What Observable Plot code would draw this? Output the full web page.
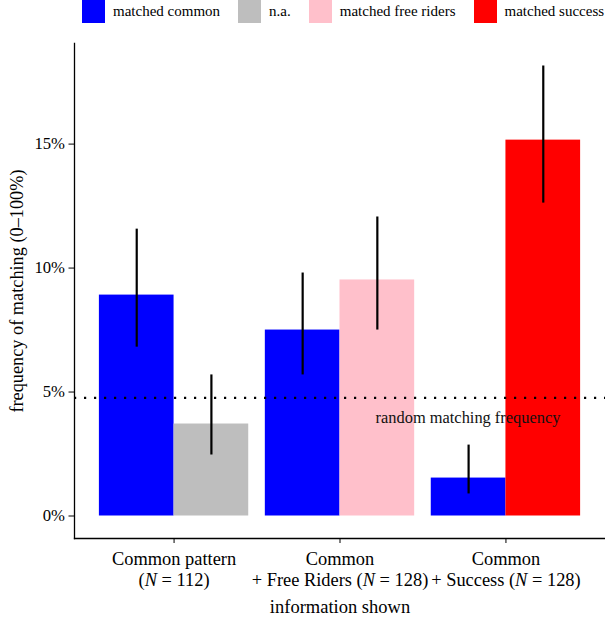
<!DOCTYPE html>
<html>
<head>
<meta charset="utf-8">
<script src="https://cdn.jsdelivr.net/npm/d3@7"></script>
<script src="https://cdn.jsdelivr.net/npm/@observablehq/plot@0.6"></script>
<style>
  body { margin: 0; background: #fff; font-family: "Liberation Serif", "Times New Roman", serif; }
  #legend { height: 30px; display: flex; align-items: flex-start; padding-left: 82px; font-size: 15px; color: #000; white-space: nowrap; }
  .item { display: flex; align-items: center; margin-right: 18px; height: 23px; flex-shrink: 0; }
  .key { width: 23px; height: 23px; margin-right: 8px; flex-shrink: 0; }
  svg { display: block; }
</style>
</head>
<body>
<div id="legend"></div>
<div id="chart"></div>
<script>
// ---- data ----
const groupLabels = [
  "Common pattern\n(N = 112)",
  "Common\n+ Free Riders (N = 128)",
  "Common\n+ Success (N = 128)"
];
const seriesNames = ["matched common", "n.a.", "matched free riders", "matched success"];
const seriesColors = ["#0000ff", "#bebebe", "#ffc0cb", "#ff0000"];
const barGroup = [0, 0, 1, 1, 2, 2];
const barSeries = ["matched common", "n.a.", "matched common", "matched free riders", "matched common", "matched success"];
const barValue = [8.91, 3.71, 7.50, 9.52, 1.53, 15.16];
const barLow   = [6.81, 2.46, 5.69, 7.50, 0.89, 12.62];
const barHigh  = [11.57, 5.69, 9.80, 12.06, 2.86, 18.15];
const randomFrequency = 100 / 21;
const yTicks = [0, 5, 10, 15];
const yTitle = "frequency of matching (0–100%)";
const xTitle = "information shown";
const annotation = "random matching frequency";

// ---- legend ----
const legend = document.getElementById("legend");
seriesNames.forEach((name, i) => {
  const item = document.createElement("div");
  item.className = "item";
  const key = document.createElement("div");
  key.className = "key";
  key.style.background = seriesColors[i];
  const label = document.createElement("span");
  label.textContent = name;
  item.append(key, label);
  legend.append(item);
});

// ---- chart ----
const half = 0.45; // dodge width of each bar in group units
const bars = barValue.map((v, i) => ({
  group: barGroup[i] + 1,
  slot: barSeries[i] === "matched common" ? 0 : 1,
  series: barSeries[i],
  value: v,
  low: barLow[i],
  high: barHigh[i]
}));
const yMax = d3.max(barHigh);

const chart = Plot.plot({
  width: 605,
  height: 588,
  marginLeft: 74,
  marginRight: 0,
  marginTop: 13,
  marginBottom: 80,
  style: { fontFamily: "Liberation Serif, Times New Roman, serif", fontSize: "17px", color: "#000", background: "#fff" },
  x: { type: "linear", domain: [0.4, 3.6] },
  y: { domain: [-0.05 * yMax, 1.05 * yMax] },
  color: { domain: seriesNames, range: seriesColors },
  marks: [
    Plot.rectY(bars, {
      x1: d => d.group - half + d.slot * half,
      x2: d => d.group + d.slot * half,
      y: "value",
      fill: "series"
    }),
    Plot.ruleY([randomFrequency], { stroke: "#000", strokeWidth: 2.2, strokeDasharray: "2.2,7.8" }),
    Plot.ruleX(bars, {
      x: d => d.group + (d.slot - 0.5) * half,
      y1: "low",
      y2: "high",
      stroke: "#000",
      strokeWidth: 2.2
    }),
    Plot.text([annotation], {
      text: d => d,
      y: () => randomFrequency,
      frameAnchor: "right",
      dx: -137.5,
      dy: 20,
      textAnchor: "middle",
      fontSize: 16.4,
      fill: "#111"
    }),
    Plot.frame({ anchor: "left", stroke: "#000", strokeWidth: 1.3 }),
    Plot.frame({ anchor: "bottom", stroke: "#000", strokeWidth: 1.3 }),
    Plot.axisY({ ticks: yTicks, tickFormat: d => d + "%", tickSize: 5.5, tickPadding: 4, fontSize: 16.7, label: null, stroke: "#000" }),
    Plot.axisX({ ticks: [1, 2, 3], tickFormat: d => groupLabels[d - 1], tickSize: 5, tickPadding: 7, lineHeight: 1.13, fontSize: 18.4, label: null }),
    Plot.text([yTitle], { text: d => d, frameAnchor: "left", dx: -57, rotate: -90, textAnchor: "middle", lineAnchor: "middle", fontSize: 18.3 }),
    Plot.text([xTitle], { text: d => d, frameAnchor: "bottom", dy: 68.5, textAnchor: "middle", lineAnchor: "middle", fontSize: 18.5 })
  ]
});

// italic N in the group labels
chart.querySelectorAll('g[aria-label="x-axis tick label"] tspan, g[aria-label="x-axis tick label"] text').forEach(t => {
  if (t.querySelector && t.querySelector("tspan")) return;
  const s = t.textContent;
  const i = s.indexOf("N =");
  if (i < 0) return;
  t.textContent = "";
  t.append(document.createTextNode(s.slice(0, i)));
  const it = document.createElementNS("http://www.w3.org/2000/svg", "tspan");
  it.setAttribute("font-style", "italic");
  it.textContent = "N";
  t.append(it, document.createTextNode(s.slice(i + 1)));
});

document.getElementById("chart").append(chart);
</script>
</body>
</html>
